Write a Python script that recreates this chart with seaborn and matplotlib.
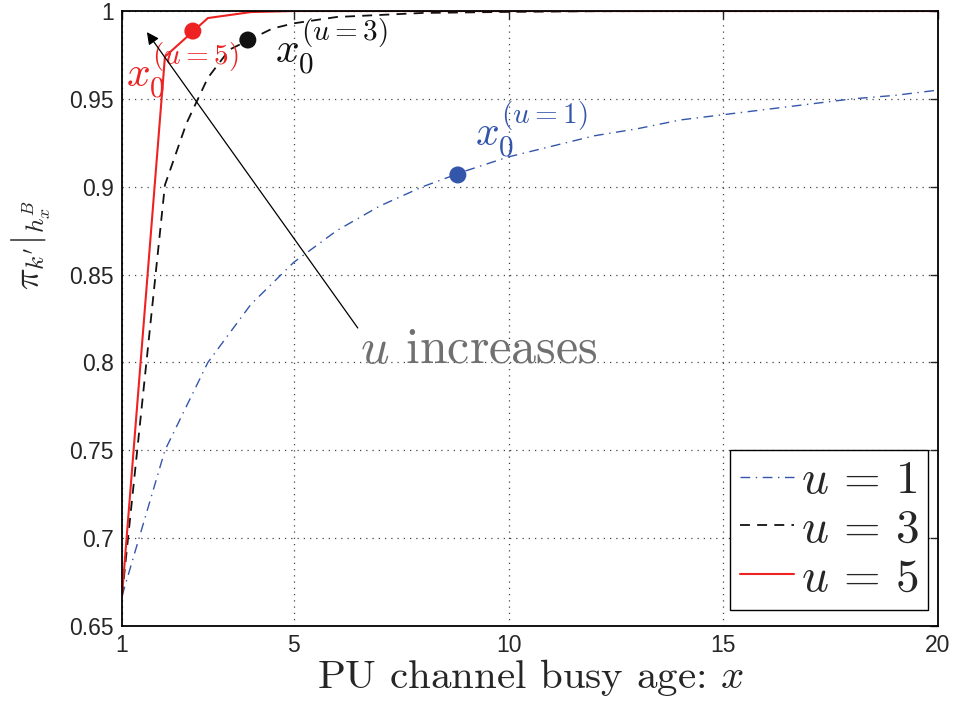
import numpy as np
import pandas as pd
import matplotlib
matplotlib.use("Agg")
import matplotlib.pyplot as plt
import seaborn as sns
from matplotlib.lines import Line2D

# ---------------- data ----------------
x_u1 = list(range(1, 21))
y_u1 = [0.667, 0.750, 0.800, 0.833, 0.857, 0.875, 0.889, 0.900, 0.909, 0.917,
        0.923, 0.929, 0.933, 0.938, 0.941, 0.944, 0.947, 0.950, 0.952, 0.955]

x_u3 = [1, 2, 2.5, 3, 3.5, 4, 4.5, 5, 6, 8, 10, 12, 15, 20]
y_u3 = [0.667, 0.901, 0.936, 0.962, 0.978, 0.984, 0.990, 0.993, 0.9966, 0.9989,
        0.9995, 0.9999, 1.0, 1.0]

x_u5 = [1, 2, 3, 4, 5, 10, 15, 20]
y_u5 = [0.667, 0.974, 0.996, 0.9994, 1.0, 1.0, 1.0, 1.0]

# operating points x0
x0_u = ["u=1", "u=3", "u=5"]
x0_x = [8.82, 3.93, 2.65]
x0_y = [0.9067, 0.9835, 0.9886]

legend_labels = [r"$u\,=\,1$", r"$u\,=\,3$", r"$u\,=\,5$"]
x_ticks = [1, 5, 10, 15, 20]
y_ticks = [0.65, 0.7, 0.75, 0.8, 0.85, 0.9, 0.95, 1.0]
y_tick_labels = ["0.65", "0.7", "0.75", "0.8", "0.85", "0.9", "0.95", "1"]

# ---------------- style ----------------
sns.set_style("white")
plt.rcParams["font.family"] = ["Liberation Sans", "DejaVu Sans"]
plt.rcParams["mathtext.fontset"] = "cm"

BLUE = "#3355aa"
BLACK = "#111111"
RED = "#ee2222"
GRAY = "#707070"

df = pd.concat([
    pd.DataFrame({"x": x_u1, "y": y_u1, "u": legend_labels[0]}),
    pd.DataFrame({"x": x_u3, "y": y_u3, "u": legend_labels[1]}),
    pd.DataFrame({"x": x_u5, "y": y_u5, "u": legend_labels[2]}),
])

fig = plt.figure(figsize=(9.56, 7.02), dpi=100)
ax = fig.add_axes([0.1276, 0.1083, 0.8536, 0.876])

DASH_U1 = (7, 4, 1, 4)
DASH_U3 = (5.5, 4)
palette = {legend_labels[0]: BLUE, legend_labels[1]: BLACK, legend_labels[2]: RED}
dashes = {legend_labels[0]: DASH_U1, legend_labels[1]: DASH_U3, legend_labels[2]: ""}
sns.lineplot(data=df, x="x", y="y", hue="u", style="u", palette=palette,
             dashes=dashes, sort=False, estimator=None, ax=ax, legend=False)
lws = [1.0, 1.3, 1.5]
for ln, lw in zip(ax.get_lines(), lws):
    ln.set_linewidth(lw)

colors = [BLUE, BLACK, RED]
sns.scatterplot(x=x0_x, y=x0_y, hue=x0_u, palette=dict(zip(x0_u, colors)),
                s=150, edgecolor="none", legend=False, ax=ax, zorder=5)

# annotations
ax.text(9.22, 0.9226, r"$x_0^{(u=1)}$", color=BLUE, fontsize=30, ha="left", va="baseline")
ax.text(4.56, 0.970, r"$x_0^{(u=3)}$", color=BLACK, fontsize=30, ha="left", va="baseline")
ax.text(1.10, 0.956, r"$x_0^{(u=5)}$", color=RED, fontsize=30, ha="left", va="baseline")
ax.annotate("", xy=(1.58, 0.988), xytext=(6.49, 0.8196),
            arrowprops=dict(arrowstyle="-|>", color="black", lw=0.9,
                            mutation_scale=18, shrinkA=0, shrinkB=0))
ax.text(6.54, 0.7997, r"$u$ increases", color=GRAY, fontsize=36,
        family="cmr10", ha="left", va="baseline")

# axes
ax.set_xlim(1, 20)
ax.set_ylim(0.65, 1.0)
ax.set_xticks(x_ticks)
ax.set_xticklabels([str(t) for t in x_ticks])
ax.set_yticks(y_ticks)
ax.set_yticklabels(y_tick_labels)
ax.tick_params(direction="in", length=6, width=1, labelsize=16.5, top=True, right=True,
               pad=6)
ax.grid(True, linestyle=(0, (1, 4)), color="#444444", linewidth=0.9)
for sp in ax.spines.values():
    sp.set_color("black")
    sp.set_linewidth(1.3)

ax.set_xlabel(r"PU channel busy age: $x$", fontsize=29.5, family="cmr10", labelpad=0)
ax.set_ylabel(r"$\pi_{k'}|_{h_x^B}$", fontsize=26, labelpad=4)
ax.yaxis.set_label_coords(-0.085, 0.62)

handles = [Line2D([], [], color=BLUE, lw=1.0, dashes=DASH_U1),
           Line2D([], [], color=BLACK, lw=1.3, dashes=DASH_U3),
           Line2D([], [], color=RED, lw=1.5)]
leg = ax.legend(handles, legend_labels, loc="lower right", fontsize=34,
                bbox_to_anchor=(0.988, 0.026), borderaxespad=0,
                frameon=True, fancybox=False, edgecolor="black", framealpha=1,
                handlelength=1.15, handletextpad=0.15, labelspacing=0.1,
                borderpad=0.2)
leg.get_frame().set_linewidth(1.0)

fig.savefig("out.png", dpi=100, facecolor="white")
